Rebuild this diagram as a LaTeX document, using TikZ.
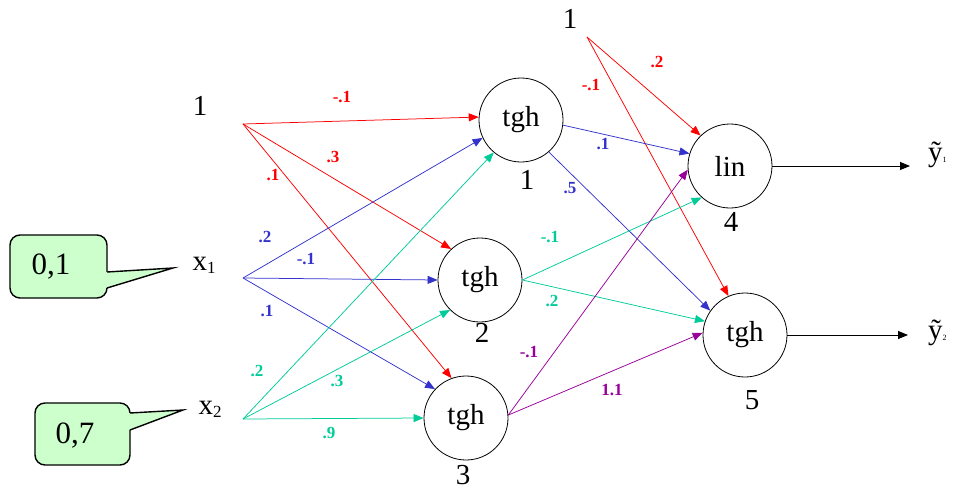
\documentclass[tikz,border=0pt]{standalone}
\usepackage{fontspec}
\setmainfont{Liberation Serif}
\usetikzlibrary{arrows.meta}
\definecolor{cred}{RGB}{255,0,0}
\definecolor{cblue}{RGB}{51,51,204}
\definecolor{cteal}{RGB}{0,204,153}
\definecolor{cpurple}{RGB}{153,0,153}
\definecolor{cfill}{RGB}{204,255,204}
\begin{document}
\begin{tikzpicture}[x=1pt,y=-1pt,
  neuron/.style={draw,circle,minimum size=84pt,inner sep=0pt,line width=0.8pt,font=\fontsize{29}{29}\selectfont},
  lbl/.style={inner sep=0pt,font=\fontsize{29}{29}\selectfont},
  wt/.style={inner sep=0pt,font=\fontsize{17}{17}\selectfont\bfseries},
  conn/.style={line width=0.75pt,-{Triangle[length=10pt,width=8pt]}},
  outarrow/.style={line width=0.9pt,black,-{Triangle[length=10pt,width=8pt]}},
  callbox/.style={draw,fill=cfill,rounded corners=10pt,line width=1.4pt,inner sep=0pt},
  calltext/.style={inner sep=0pt,font=\fontsize{31}{31}\selectfont}]
\useasboundingbox (0,0) rectangle (953,490);

% callouts
\node[callbox,minimum width=97pt,minimum height=63pt] (c1) at (58.5,266.5) {};
\fill[cfill] (105.5,272) -- (173,268) -- (105.5,288) -- cycle;
\draw[line width=1.4pt,line join=miter] (107,272) -- (173,268) -- (107,288);
\node[calltext] (t1) at (51,267) {0,1};
\node[callbox,minimum width=95pt,minimum height=62pt] (c2) at (82.5,434) {};
\fill[cfill] (128.5,413) -- (183,410) -- (128.5,430) -- cycle;
\draw[line width=1.4pt,line join=miter] (130,413) -- (183,410) -- (130,430);
\node[calltext] (t2) at (75,436) {0,7};

% sources
\coordinate (s0) at (243,124);
\coordinate (s1) at (243,278);
\coordinate (s2) at (243,419);
\coordinate (s3) at (587,37);
\node[lbl] (l0) at (200,106) {1};
\node[lbl] (l1) at (204,265) {x\raisebox{-3pt}{\fontsize{17}{17}\selectfont 1}};
\node[lbl] (l2) at (210,409) {x\raisebox{-3pt}{\fontsize{17}{17}\selectfont 2}};
\node[lbl] (l3) at (570,19) {1};

% neurons
\node[neuron] (n1) at (521,120) {tgh};
\node[neuron] (n2) at (480,280) {tgh};
\node[neuron] (n3) at (466,418) {tgh};
\node[neuron] (n4) at (730,166) {lin};
\node[neuron] (n5) at (745,335) {tgh};
\node[lbl] (k1) at (527,180) {1};
\node[lbl] (k2) at (482,333) {2};
\node[lbl] (k3) at (463,475) {3};
\node[lbl] (k4) at (731,222) {4};
\node[lbl] (k5) at (752,400) {5};

% layer 1 connections
\draw[conn,cred] (s0) -- (n1.176);
\draw[conn,cred] (s0) -- (n2.133);
\draw[conn,cred] (s0) -- (n3.110);
\draw[conn,cblue] (s1) -- (n1.205);
\draw[conn,cblue] (s1) -- (n2.180);
\draw[conn,cblue] (s1) -- (n3.137);
\draw[conn,cteal] (s2) -- (n1.230);
\draw[conn,cteal] (s2) -- (n2.225);
\draw[conn,cteal] (s2) -- (n3.180);

% layer 2 connections
\draw[conn,cred] (s3) -- (n4.134);
\draw[conn,cred] (s3) -- (n5.113);
\draw[conn,cblue] (n1.-7) -- (n4.163);
\draw[conn,cblue] (n1.-49) -- (n5.145);
\draw[conn,cteal] (n2.0) -- (n4.228);
\draw[conn,cteal] (n2.0) -- (n5.161);
\draw[conn,cpurple] (n3.4) -- (n4.185);
\draw[conn,cpurple] (n3.4) -- (n5.177);

% outputs
\coordinate (o1) at (910,166);
\coordinate (o2) at (908,335);
\draw[outarrow] (n4.east) -- (o1);
\draw[outarrow] (n5.east) -- (o2);
\node[lbl,anchor=west] (y1) at (928,155) {ỹ\raisebox{-1pt}{\fontsize{8}{8}\selectfont 1}};
\node[lbl,anchor=west] (y2) at (928,333) {ỹ\raisebox{-1pt}{\fontsize{8}{8}\selectfont 2}};

% weights
\node[wt,cred] (w1) at (342,97) {-.1};
\node[wt,cred] (w2) at (333,157) {.3};
\node[wt,cred] (w3) at (273,175) {.1};
\node[wt,cblue] (w4) at (265,237) {.2};
\node[wt,cblue] (w5) at (306,259) {-.1};
\node[wt,cblue] (w6) at (267,311) {.1};
\node[wt,cteal] (w7) at (257,371) {.2};
\node[wt,cteal] (w8) at (337,381) {.3};
\node[wt,cteal] (w9) at (329,433) {.9};
\node[wt,cred] (w10) at (657,62) {.2};
\node[wt,cred] (w11) at (591,85) {-.1};
\node[wt,cblue] (w12) at (603,144) {.1};
\node[wt,cblue] (w13) at (570,188) {.5};
\node[wt,cteal] (w14) at (550,237) {-.1};
\node[wt,cteal] (w15) at (552,301) {.2};
\node[wt,cpurple] (w16) at (529,352) {-.1};
\node[wt,cpurple] (w17) at (612,390) {1.1};
\end{tikzpicture}
\end{document}
